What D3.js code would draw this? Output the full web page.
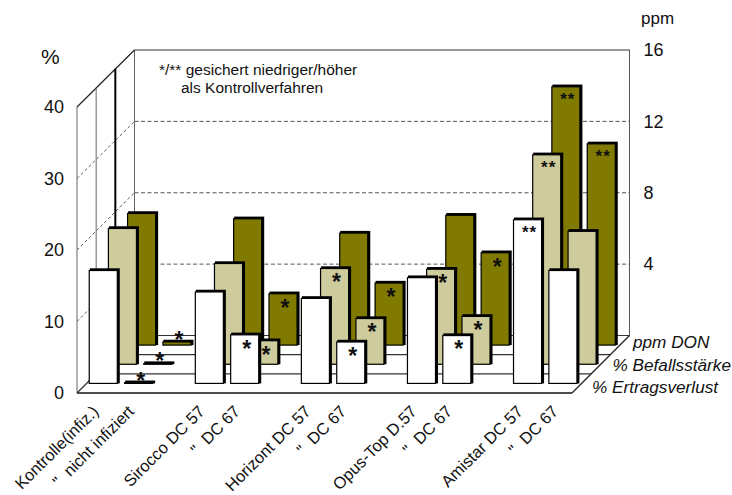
<!DOCTYPE html>
<html>
<head>
<meta charset="utf-8">
<script src="https://cdn.jsdelivr.net/npm/d3@7"></script>
<style>
  html, body { margin: 0; padding: 0; background: #fff; }
  svg { display: block; }
  text { font-family: "Liberation Sans", Arial, sans-serif; fill: #111; }
</style>
</head>
<body>
<div id="chart"></div>
<script>
// empty strings are the gaps between the product groups
const categories = ['Kontrolle(infiz.)', '"  nicht infiziert', '',
  'Sirocco DC 57', '"  DC 67', '',
  'Horizont DC 57', '"  DC 67', '',
  'Opus-Top D.57', '"  DC 67', '',
  'Amistar DC 57', '"  DC 67'];
const treatments = categories.filter((d) => d !== '');

const ertragsverlust = [16.1, 0.4, 13.1, 7.1, 12.2, 6.1, 15.1, 7.0, 23.2, 16.1];
const befallsstaerke = [19.3, 0.4, 14.4, 3.6, 13.7, 6.7, 13.6, 7.0, 29.6, 18.9];
const ppmDon = [7.5, 0.3, 7.2, 3.0, 6.4, 3.6, 7.4, 5.3, 14.6, 11.4];

const ertragsStars = ['', '*', '', '*', '', '*', '', '*', '**', ''];
const befallsStars = ['', '*', '', '*', '*', '*', '*', '*', '**', ''];
const donStars = ['', '*', '', '*', '', '*', '', '*', '**', '**'];

const seriesNames = ['% Ertragsverlust', '% Befallsstärke', 'ppm DON'];
const percentTicks = [0, 10, 20, 30, 40];
const ppmTicks = [4, 8, 12, 16];

const width = 732;
const height = 495;

const svg = d3.select('#chart')
  .append('svg')
  .attr('width', width)
  .attr('height', height);

// Front edge of the floor and the oblique shift of the back wall
const x = d3.scaleBand()
  .domain(d3.range(categories.length))
  .range([77, 572])
  .paddingInner(0.15)
  .paddingOuter(0.075);

const depth = d3.scaleLinear().domain([0, 3]).range([0, 57.5]);

const yPercent = d3.scaleLinear().domain([0, 40]).range([393, 107]);
const yPpm = d3.scaleLinear().domain([0, 16]).range([335.5, 50]);
// ppm values measured on the back wall, brought forward to the front plane
const yPpmFront = (v) => yPpm(v) + depth(3);

const wallLeft = x.range()[0];
const wallRight = x.range()[1];
const backLeft = wallLeft + depth(3);
const backRight = wallRight + depth(3);

const line = (x1, y1, x2, y2, color, w, dash) => svg.append('line')
  .attr('x1', x1).attr('y1', y1)
  .attr('x2', x2).attr('y2', y2)
  .attr('stroke', color)
  .attr('stroke-width', w)
  .attr('stroke-dasharray', dash || null);

// Dashed gridlines, across the side wall and then along the back wall
ppmTicks.slice(0, 3).forEach((t) => {
  line(wallLeft, yPercent(t * 2.5), backLeft, yPpm(t), '#444', 0.9, '3 2.5');
  line(backLeft, yPpm(t), backRight, yPpm(t), '#444', 0.9, '4 2.5');
});

// Frame of the walls
line(backLeft, yPpm(16), backRight, yPpm(16), '#333', 1.2);
line(backRight, yPpm(16), backRight, yPpm(0), '#555', 1);
line(backLeft, yPpm(16), backLeft, yPpm(0), '#666', 1);
line(wallLeft, yPercent(40), backLeft, yPpm(16), '#222', 1.2);
line(wallLeft, yPercent(40), wallLeft, yPercent(0), '#666', 1);

// Row lines on the floor and the verticals they meet on the side wall
[1, 2].forEach((d) => {
  const top = yPercent(40) - depth(d);
  const bottom = yPercent(0) - depth(d);
  line(wallLeft + depth(d), top, wallLeft + depth(d), bottom, d === 2 ? '#000' : '#666', d === 2 ? 2 : 1);
  line(wallLeft + depth(d), bottom, wallRight + depth(d), bottom, '#333', 1.2);
});
line(backLeft, yPpm(0), backRight, yPpm(0), '#333', 1.2);

// Floor outline
line(wallLeft, yPercent(0), wallRight, yPercent(0), '#111', 1.6);
line(wallLeft, yPercent(0), backLeft, yPpm(0), '#333', 1.2);
line(wallRight, yPercent(0), backRight, yPpm(0), '#222', 1.2);

const slots = categories.map((d, i) => i).filter((i) => categories[i] !== '');

const series = [
  { values: ppmDon, stars: donStars, row: 2, y: yPpmFront, fill: '#807a00' },
  { values: befallsstaerke, stars: befallsStars, row: 1, y: yPercent, fill: '#cecb9c' },
  { values: ertragsverlust, stars: ertragsStars, row: 0, y: yPercent, fill: '#ffffff' },
];

const edge = 2.2;

// Back row first so the nearer bars cover it
series.forEach((s) => {
  const shift = depth(s.row + 0.5);
  const g = svg.append('g').attr('class', 'series');
  const barX = (i) => x(slots[i]) + shift;
  const barTop = (v) => s.y(v) - shift;
  const barBottom = s.y(0) - shift;

  const bars = g.selectAll('g')
    .data(s.values)
    .join('g');

  // heavy top and right edge give the bar its thickness
  bars.append('rect')
    .attr('x', (d, i) => barX(i) + 0.5)
    .attr('y', (d) => barTop(d))
    .attr('width', x.bandwidth())
    .attr('height', (d) => barBottom - barTop(d))
    .attr('fill', '#000');

  bars.append('rect')
    .attr('x', (d, i) => barX(i))
    .attr('y', (d) => Math.min(barTop(d) + edge, barBottom))
    .attr('width', x.bandwidth() - 2)
    .attr('height', (d) => Math.max(barBottom - barTop(d) - edge, 0))
    .attr('fill', s.fill)
    .attr('stroke', '#000')
    .attr('stroke-width', 1.2);

  bars.append('text')
    .attr('x', (d, i) => barX(i) + x.bandwidth() / 2 + 1)
    .attr('y', (d, i) => {
      const h = barBottom - barTop(d);
      if (h < 12) return barTop(d) + 8;
      return barTop(d) + (s.stars[i] === '**' ? 20 : 24);
    })
    .attr('text-anchor', 'middle')
    .attr('font-size', (d, i) => (s.stars[i] === '**' ? 17 : 23))
    .attr('letter-spacing', (d, i) => (s.stars[i] === '**' ? 1 : 0))
    .attr('font-weight', 'bold')
    .text((d, i) => s.stars[i]);
});

// Axes, tick labels on the outside of the walls
const leftAxis = d3.axisLeft(yPercent)
  .tickValues(percentTicks)
  .tickSize(0)
  .tickPadding(13);

svg.append('g')
  .attr('transform', `translate(${wallLeft},0)`)
  .call(leftAxis)
  .call((g) => g.select('.domain').remove())
  .call((g) => g.selectAll('text').attr('font-size', 18).attr('fill', '#111').attr('font-family', '"Liberation Sans", Arial, sans-serif'));

const rightAxis = d3.axisRight(yPpm)
  .tickValues(ppmTicks)
  .tickSize(0)
  .tickPadding(14);

svg.append('g')
  .attr('transform', `translate(${backRight},0)`)
  .call(rightAxis)
  .call((g) => g.select('.domain').remove())
  .call((g) => g.selectAll('text').attr('font-size', 18).attr('fill', '#111').attr('font-family', '"Liberation Sans", Arial, sans-serif'));

svg.append('text').attr('x', 41).attr('y', 64).attr('font-size', 21).text('%');
svg.append('text').attr('x', 641).attr('y', 24).attr('font-size', 17).text('ppm');

// Note on the back wall
svg.append('text').attr('x', 159).attr('y', 75).attr('font-size', 15.5).text('*/** gesichert niedriger/höher');
svg.append('text').attr('x', 181).attr('y', 93).attr('font-size', 15.5).text('als Kontrollverfahren');

// Row names beside the right floor edge
svg.selectAll('.row-name')
  .data(seriesNames)
  .join('text')
  .attr('class', 'row-name')
  .attr('x', (d, i) => wallRight + 20 + i * 20.5)
  .attr('y', (d, i) => yPercent(0) - i * 22.5)
  .attr('font-size', 17.2)
  .attr('font-style', 'italic')
  .text((d) => d);

// Slanted treatment labels
svg.selectAll('.cat-label')
  .data(treatments)
  .join('text')
  .attr('class', 'cat-label')
  .attr('text-anchor', 'end')
  .attr('font-size', 16.5)
  .attr('transform', (d, i) => `translate(${x(slots[i]) + 20},${yPercent(0) + 19.5}) rotate(-45)`)
  .style('white-space', 'pre')
  .text((d) => d);
</script>
</body>
</html>
